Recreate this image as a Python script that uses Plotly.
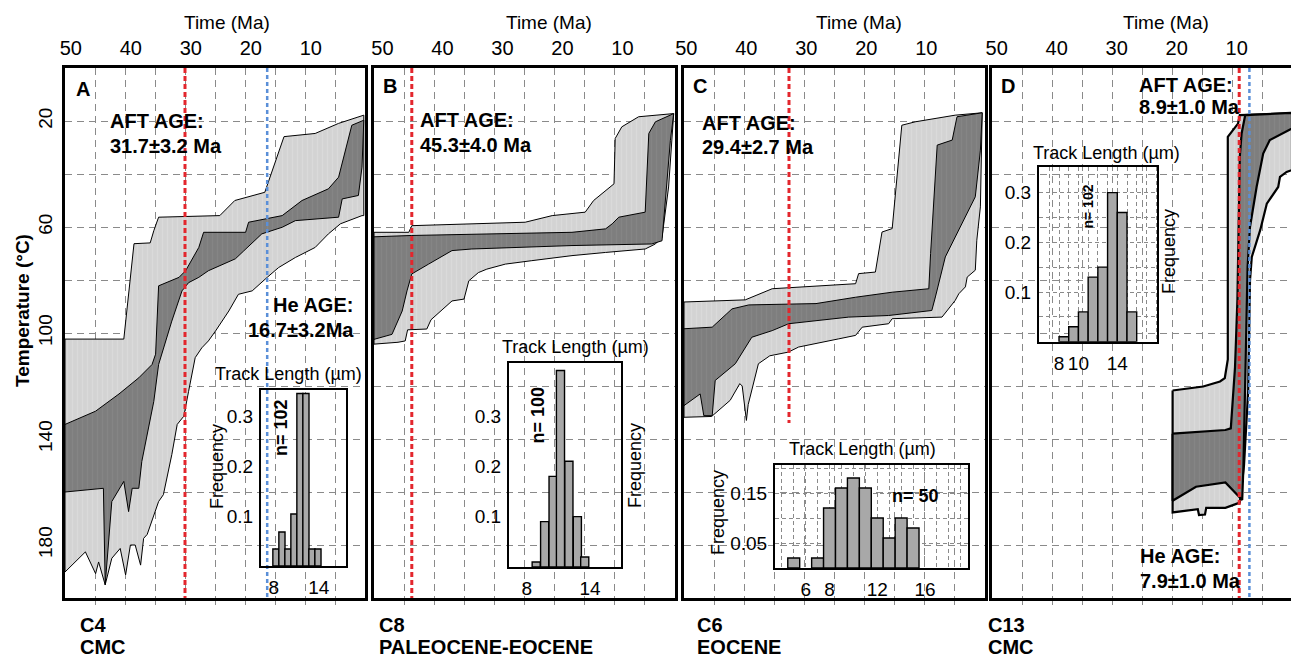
import plotly.graph_objects as go

W, H = 1291, 657

# ---------------- data ----------------
time_ticks = [50, 40, 30, 20, 10]
time_grid = [5, 10, 15, 20, 25, 30, 35, 40, 45]
temp_grid = [20, 40, 60, 80, 100, 120, 140, 160, 180]
temp_tick_text = ["20", "", "60", "", "100", "", "140", "", "180"]

# t-T envelopes: (time Ma, temperature degC); "acc" = acceptable (light), "good" = good (dark)
A_acc_cool = [(50, 102.3), (40.2, 102.3), (38.5, 66.3), (35.8, 66), (35.2, 61.4), (34.4, 56.3),
              (24.2, 55.7), (21.7, 50), (16.7, 46.9), (13.8, 27.3), (13.5, 25.9), (8.3, 24.7),
              (4.4, 20.9), (0.2, 17.8)]
A_acc_hot = [(50, 190.2), (46.6, 182.6), (44.9, 190.8), (44.4, 186.4), (43.3, 195), (42.2, 185),
             (40.8, 181.3), (39.9, 191.3), (39.1, 180), (38.3, 180), (37.4, 187.6), (36.9, 177.5),
             (36.3, 176), (34.4, 163.6), (33.6, 161), (32.2, 145.9), (31.3, 134.5), (30.2, 131.4),
             (29.4, 122), (28.3, 109.3), (27.2, 105.6), (26.1, 103), (24.9, 99.2), (22.7, 91.7),
             (21.1, 85.4), (18.8, 84.1), (16.3, 79), (14.4, 75.3), (11.6, 71.5), (8.3, 67.7),
             (6.1, 62.6), (4.1, 58.8), (0.5, 55.7), (0.2, 55.7)]
A_good_cool = [(50, 134.5), (44.9, 129.5), (41, 123), (37.7, 116.9), (35.5, 111.9), (34.9, 108),
               (34.4, 82.2), (31, 79), (29.9, 76.5), (27.7, 67.7), (26.9, 62), (19.9, 62),
               (19.4, 58.2), (13.8, 55.7), (10.5, 50), (6.1, 45.6), (4.4, 41.2), (2.2, 21.6),
               (0.2, 19.7)]
A_good_hot = [(50, 160), (43.6, 158.6), (43.3, 195), (42.2, 163.6), (40.2, 156), (39.4, 167.4),
              (38.8, 158.6), (37.7, 158.6), (37.2, 148.5), (36.3, 138.3), (35.2, 125.8),
              (34.4, 111.9), (32.2, 95.5), (30.5, 84.1), (29.4, 81), (27.7, 79), (26.1, 76.5),
              (21.6, 72), (20.2, 69), (17.2, 62.6), (13.8, 60.1), (11.6, 57.6), (4.4, 56.3),
              (3.8, 49.4), (1.1, 48.1), (0.5, 37.4), (0.2, 19.7)]

B_acc_cool = [(50, 62), (44.2, 62), (43.7, 59.5), (24.8, 58.2), (20.3, 55.7), (14.8, 54.4),
              (13.4, 50), (11.4, 46.2), (10, 43.7), (9.8, 26.6), (8.7, 22.2), (5.9, 18.4),
              (0.05, 17.2)]
B_acc_hot = [(50, 104.2), (46, 103.5), (44.8, 103), (44.4, 98.8), (41.2, 98.5), (40.5, 95),
             (37, 87.9), (35, 87.2), (34.2, 80.3), (32.6, 77.2), (31.2, 75.9), (28.1, 74),
             (23.7, 72.7), (17, 70.8), (11.4, 69.6), (4.8, 68.3), (3.1, 66.4), (2, 63.9),
             (1.4, 53.8), (0.9, 44.9), (0.05, 17.2)]
B_good_cool = [(50, 63.7), (43.7, 63.2), (17, 62), (11.4, 60.7), (10.3, 58.8), (9.2, 56.3),
               (4.8, 54.4), (4.2, 24.7), (3.1, 20.3), (0.05, 17.2)]
B_good_hot = [(50, 102.4), (47, 100.5), (45.3, 91.7), (44.5, 84.1), (43.7, 77.7), (40.9, 74),
              (37, 68.9), (33.7, 68.3), (17, 67), (3.7, 66.4), (2, 65.2), (1.4, 50), (0.6, 27.3),
              (0.05, 17.2)]

C_acc_cool = [(50, 88.3), (39.8, 87.5), (35.3, 83.3), (21.4, 81.4), (20.9, 77.6), (18.1, 77),
              (17, 61.9), (15.3, 60.6), (13.7, 21.6), (11.45, 20.3), (4.8, 17.8), (0.3, 16.9)]
C_acc_hot = [(50, 131.8), (45.4, 131.5), (42.3, 125.4), (40.7, 119.1), (40.3, 120), (39.6, 133),
             (39.3, 127), (37.6, 111.6), (35.7, 108.6), (32.6, 107.2), (30.9, 105.3),
             (24.2, 102.2), (21.4, 100.9), (20.3, 97.8), (15.9, 96.5), (15.3, 94.6), (7, 94),
             (4.8, 87.7), (4.2, 85.2), (3.1, 82.6), (2.8, 78.9), (1.45, 76.3), (1.2, 65),
             (0.6, 52.4), (0.3, 16.9)]
C_good_cool = [(50, 98.4), (45.3, 97.8), (42, 90.9), (39.2, 89.4), (28, 88.9), (21.4, 86.5),
               (15.3, 84.6), (9.2, 83.3), (8.9, 70), (7.8, 29.1), (5.3, 27.2), (4.5, 18.4),
               (0.3, 16.9)]
C_good_hot = [(50, 127.4), (47.3, 123), (46.7, 131.2), (45.3, 131.2), (44.8, 117.9),
              (41.45, 111.6), (38.7, 101.6), (35.3, 99.1), (32.55, 96.5), (22.55, 94),
              (15.9, 93.4), (8.7, 91.5), (8.1, 86.4), (6.45, 71.3), (3.1, 56.2), (1.45, 48.6),
              (0.6, 31), (0.3, 16.9)]

D_acc_cool = [(19.9, 121.7), (14.8, 120.2), (12, 118.3), (11.2, 117), (10.7, 110), (10.7, 26),
              (9.0, 21), (8.7, 17.8), (0, 17.1)]
D_acc_hot = [(19.9, 167.7), (15.7, 166.5), (15.5, 168.7), (14.5, 168.5), (14.3, 166),
             (11.1, 166), (8.7, 164), (8.0, 150), (7.3, 121.7), (7.0, 80.2), (6.7, 71.3),
             (5.3, 61.2), (4.2, 51.2), (2.3, 44.9), (2.0, 41.1), (0.9, 39.2), (0, 38.5)]
D_good_cool = [(19.9, 138), (11.1, 136.6), (10.2, 136), (9.5, 113), (9.1, 87.7), (8.9, 50),
               (8.7, 33.5), (8.4, 24.7), (7.8, 17.8), (0, 16.9)]
D_good_hot = [(19.9, 163.3), (16, 158), (11.1, 156.4), (10.3, 158), (8.3, 163), (8.1, 150.7),
              (7.8, 125.5), (7.6, 100.3), (7.4, 75.1), (7.0, 60), (5.9, 44.9), (4.8, 32.3),
              (3.7, 27.2), (0, 22.8)]

aft_line_t = [30.0, 43.7, 32.5, 8.8]          # red dashed lines (AFT age)
aft_line_T = [(0, 200), (0, 200), (0, 134), (0, 200)]
he_line_t = [16.3, None, None, 7.1]           # blue dashed lines (He age)

aft_age_text = ["31.7±3.2 Ma", "45.3±4.0 Ma", "29.4±2.7 Ma", "8.9±1.0 Ma"]
he_age_text = ["16.7±3.2Ma", None, None, "7.9±1.0 Ma"]
panel_letters = ["A", "B", "C", "D"]
sample_ids = ["C4", "C8", "C6", "C13"]
sample_units = ["CMC", "PALEOCENE-EOCENE", "EOCENE", "CMC"]

# track-length histograms (length um, frequency)
A_len = [8.3, 9.1, 9.9, 10.7, 11.5, 12.3, 13.1, 13.9]
A_freq = [0.034, 0.068, 0.034, 0.104, 0.345, 0.345, 0.034, 0.034]
B_len = [8.9, 9.7, 10.5, 11.2, 12.0, 12.8, 13.5]
B_freq = [0.01, 0.09, 0.18, 0.39, 0.21, 0.10, 0.02]
C_len = [5, 7, 8, 9, 10, 11, 12, 13, 14, 15]
C_freq = [0.02, 0.02, 0.12, 0.16, 0.18, 0.16, 0.10, 0.06, 0.10, 0.08]
D_len = [8.5, 9.5, 10.5, 11.5, 12.5, 13.5, 14.5, 15.5]
D_freq = [0.01, 0.03, 0.06, 0.13, 0.15, 0.30, 0.26, 0.06]
n_tracks = [102, 100, 50, 102]

# ---------------- styling / layout ----------------
FONT = "Liberation Sans, Arial, sans-serif"
LIGHT = "#d3d3d3"
LIGHT_STREAK = "#e2e2e2"
DARK = "#7e7e7e"
DARK_STREAK = "#8c8c8c"
BAR = "#a8a8a8"
GRID = "#8a8a8a"
RED = "#e3262d"
BLUE = "#5a8fd8"


def px(x):
    return x / W


def py(y):
    return 1 - y / H


def axid(letter, n):
    return letter if n == 1 else f"{letter}{n}"


panel_px = [(65, 365), (374, 675), (684, 985), (992, 1291)]
panel_top, panel_bot = 68, 598
label_left = [50.97, 51.4, 50.38, 50.78]   # top tick-label axis (time at panel left edge)

fig = go.Figure()

envelopes = [
    (A_acc_cool, A_acc_hot, A_good_cool, A_good_hot),
    (B_acc_cool, B_acc_hot, B_good_cool, B_good_hot),
    (C_acc_cool, C_acc_hot, C_good_cool, C_good_hot),
    (D_acc_cool, D_acc_hot, D_good_cool, D_good_hot),
]
outline_w = [1, 1, 1, 2.2]

for i, (ac, ah, gc, gh) in enumerate(envelopes):
    n = i + 1
    for cool, hot, col, streak in ((ac, ah, LIGHT, LIGHT_STREAK), (gc, gh, DARK, DARK_STREAK)):
        xs = [p[0] for p in cool] + [p[0] for p in hot[::-1]]
        ys = [p[1] for p in cool] + [p[1] for p in hot[::-1]]
        xs.append(xs[0])
        ys.append(ys[0])
        fig.add_trace(go.Scatter(x=xs, y=ys, xaxis=axid("x", n), yaxis=axid("y", n),
                                 mode="lines", fill="toself", fillcolor=col,
                                 fillpattern=dict(shape="|", bgcolor=col, fgcolor=streak,
                                                  size=5, solidity=0.25),
                                 line=dict(color="black", width=outline_w[i]),
                                 hoverinfo="skip", showlegend=False))
    t = aft_line_t[i]
    fig.add_trace(go.Scatter(x=[t, t], y=list(aft_line_T[i]), xaxis=axid("x", n),
                             yaxis=axid("y", n), mode="lines",
                             line=dict(color=RED, width=3, dash="5px,3px"),
                             hoverinfo="skip", showlegend=False))
    if he_line_t[i] is not None:
        t = he_line_t[i]
        fig.add_trace(go.Scatter(x=[t, t], y=[0, 200], xaxis=axid("x", n),
                                 yaxis=axid("y", n), mode="lines",
                                 line=dict(color=BLUE, width=2.5, dash="4px,3px"),
                                 hoverinfo="skip", showlegend=False))
    # invisible anchor trace so the top tick-label axis is drawn
    fig.add_trace(go.Scatter(x=[label_left[i]], y=[-50], xaxis=f"x{n + 4}", yaxis=axid("y", n),
                             mode="markers", marker=dict(opacity=0), hoverinfo="skip",
                             showlegend=False))

layout = dict(width=W, height=H, margin=dict(l=0, r=0, t=0, b=0, pad=0, autoexpand=False),
              paper_bgcolor="white", plot_bgcolor="rgba(0,0,0,0)",
              font=dict(family=FONT, color="black"), showlegend=False)

for i in range(4):
    n = i + 1
    l, r = panel_px[i]
    xl = 50
    xr = 50 - (r - l) / 6.0
    dom_x = [px(l), min(px(r), 1.0)]
    dom_y = [py(panel_bot), py(panel_top)]
    layout[f"xaxis{n}"] = dict(
        domain=dom_x, range=[xl, xr], anchor=axid("y", n), tickmode="array",
        tickvals=time_grid, showticklabels=False, showgrid=True, gridcolor=GRID,
        griddash="7px,5px", gridwidth=1.1, zeroline=False, showline=True, mirror=True,
        linecolor="black", linewidth=2.5, ticks="outside", ticklen=4, tickcolor=GRID,
        tickwidth=1, automargin=False)
    layout[f"yaxis{n}"] = dict(
        domain=dom_y, range=[200, 0], anchor=axid("x", n), tickmode="array",
        tickvals=temp_grid, ticktext=temp_tick_text, showticklabels=(n == 1),
        tickangle=-90, tickfont=dict(size=19), showgrid=True, gridcolor=GRID,
        griddash="7px,5px", gridwidth=1.1, zeroline=False, showline=True, mirror=True,
        linecolor="black", linewidth=2.5, ticks="outside", ticklen=3,
        tickcolor="rgba(0,0,0,0)", automargin=False)
    # top time labels (separate overlaying axis)
    lab_l = label_left[i]
    lab_r = lab_l - (r - l) / 6.0
    layout[f"xaxis{n + 4}"] = dict(
        domain=dom_x, overlaying=axid("x", n), anchor=axid("y", n), side="top",
        range=[lab_l, lab_r], tickmode="array", tickvals=time_ticks,
        tickfont=dict(size=20), showgrid=False, zeroline=False, showline=False,
        ticks="outside", ticklen=4, tickcolor="rgba(0,0,0,0)", automargin=False)

# insets
insets = [
    dict(L=A_len, F=A_freq, w=0.82, box=(261, 346.3, 390, 566), xr=[6.31, 17.68],
         yr=[0, 0.352], xv=[8, 14], xt=["8", "14"], yv=[0.1, 0.2, 0.3],
         yt=["0.1", "0.2", "0.3"], grid=False),
    dict(L=B_len, F=B_freq, w=0.77, box=(509, 620.7, 363, 567), xr=[6.32, 16.91],
         yr=[0, 0.405], xv=[8, 14], xt=["8", "14"], yv=[0.1, 0.2, 0.3],
         yt=["0.1", "0.2", "0.3"], grid=False),
    dict(L=C_len, F=C_freq, w=1.0, box=(775, 968.3, 465, 568), xr=[3.43, 19.63],
         yr=[0, 0.206], xv=list(range(4, 20)),
         xt=[str(v) if v in (6, 8, 12, 16) else "" for v in range(4, 20)],
         yv=[0.05, 0.1, 0.15, 0.2], yt=["0.05", "", "0.15", ""], grid=True),
    dict(L=D_len, F=D_freq, w=1.0, box=(1039, 1157.3, 167.3, 341.7), xr=[5.94, 18.12],
         yr=[0, 0.351], xv=list(range(6, 19)),
         xt=[str(v) if v in (8, 10, 14) else "" for v in range(6, 19)],
         yv=[0.05, 0.1, 0.15, 0.2, 0.25, 0.3, 0.35],
         yt=["", "0.1", "", "0.2", "", "0.3", ""], grid=True),
]

for k, ins in enumerate(insets):
    xn = 9 + k
    yn = 5 + k
    x0, x1, y0, y1 = ins["box"]
    fig.add_trace(go.Bar(x=ins["L"], y=ins["F"], width=ins["w"], xaxis=f"x{xn}",
                         yaxis=f"y{yn}", marker=dict(color=BAR, line=dict(color="black", width=1.4)),
                         hoverinfo="skip", showlegend=False))
    layout[f"xaxis{xn}"] = dict(
        domain=[px(x0), px(x1)], range=ins["xr"], anchor=f"y{yn}", tickmode="array",
        tickvals=ins["xv"], ticktext=ins["xt"], tickfont=dict(size=19),
        showgrid=ins["grid"], gridcolor=GRID, griddash="4px,3px", gridwidth=1,
        zeroline=False, showline=True, mirror=True, linecolor="black", linewidth=2,
        ticks="outside", ticklen=3, tickcolor="rgba(0,0,0,0)", automargin=False)
    layout[f"yaxis{yn}"] = dict(
        domain=[py(y1), py(y0)], range=ins["yr"], anchor=f"x{xn}", tickmode="array",
        tickvals=ins["yv"], ticktext=ins["yt"], tickfont=dict(size=19),
        showgrid=ins["grid"], gridcolor=GRID, griddash="4px,3px", gridwidth=1,
        zeroline=False, showline=True, mirror=True, linecolor="black", linewidth=2,
        ticks="outside", ticklen=2, tickcolor="rgba(0,0,0,0)", automargin=False)

anns = []


def ann(text, x, y, size, bold=False, xanchor="center", angle=0):
    anns.append(dict(text=f"<b>{text}</b>" if bold else text, x=px(x), y=py(y),
                     xref="paper", yref="paper", xanchor=xanchor, yanchor="middle",
                     showarrow=False, textangle=angle, font=dict(size=size, family=FONT)))


for xc in (227, 549, 859, 1166):
    ann("Time (Ma)", xc, 23, 19)
ann("Temperature (°C)", 23, 311, 19, bold=True, angle=-90)

for letter, (x, y) in zip(panel_letters, [(83, 89), (390, 86), (700, 86), (1008, 86)]):
    ann(letter, x, y, 20, bold=True)

aft_pos = [(108, 121, 146), (418, 120, 145), (700, 122.5, 146.7), (1137, 84.5, 107.5)]
for txt, (x, y1, y2) in zip(aft_age_text, aft_pos):
    ann("AFT AGE:", x, y1, 20, bold=True, xanchor="left")
    ann(txt, x, y2, 20, bold=True, xanchor="left")

ann("He AGE:", 355, 304.5, 20, bold=True, xanchor="right")
ann(he_age_text[0], 356, 329.5, 20, bold=True, xanchor="right")
ann("He AGE:", 1138, 555.5, 20, bold=True, xanchor="left")
ann(he_age_text[3], 1138, 580.5, 20, bold=True, xanchor="left")

for sid, unit, x in zip(sample_ids, sample_units, (78, 377, 695, 986)):
    ann(sid, x, 625, 20, bold=True, xanchor="left")
    ann(unit, x, 647, 20, bold=True, xanchor="left")

for (x, y) in [(288.5, 374), (575, 347), (862.5, 449), (1106, 153)]:
    ann("Track Length (µm)", x, y, 18)
for (x, y) in [(217, 467), (635, 466), (718, 513), (1169, 252)]:
    ann("Frequency", x, y, 18, angle=-90)

ann(f"n= {n_tracks[0]}", 281, 428, 18, bold=True, angle=-90)
ann(f"n= {n_tracks[1]}", 537.5, 415, 18, bold=True, angle=-90)
ann(f"n= {n_tracks[2]}", 915, 496, 18, bold=True)
ann(f"n= {n_tracks[3]}", 1087.5, 207, 14, bold=True, angle=-90)

layout["annotations"] = anns
fig.update_layout(**layout)
fig.write_html("out.html")
